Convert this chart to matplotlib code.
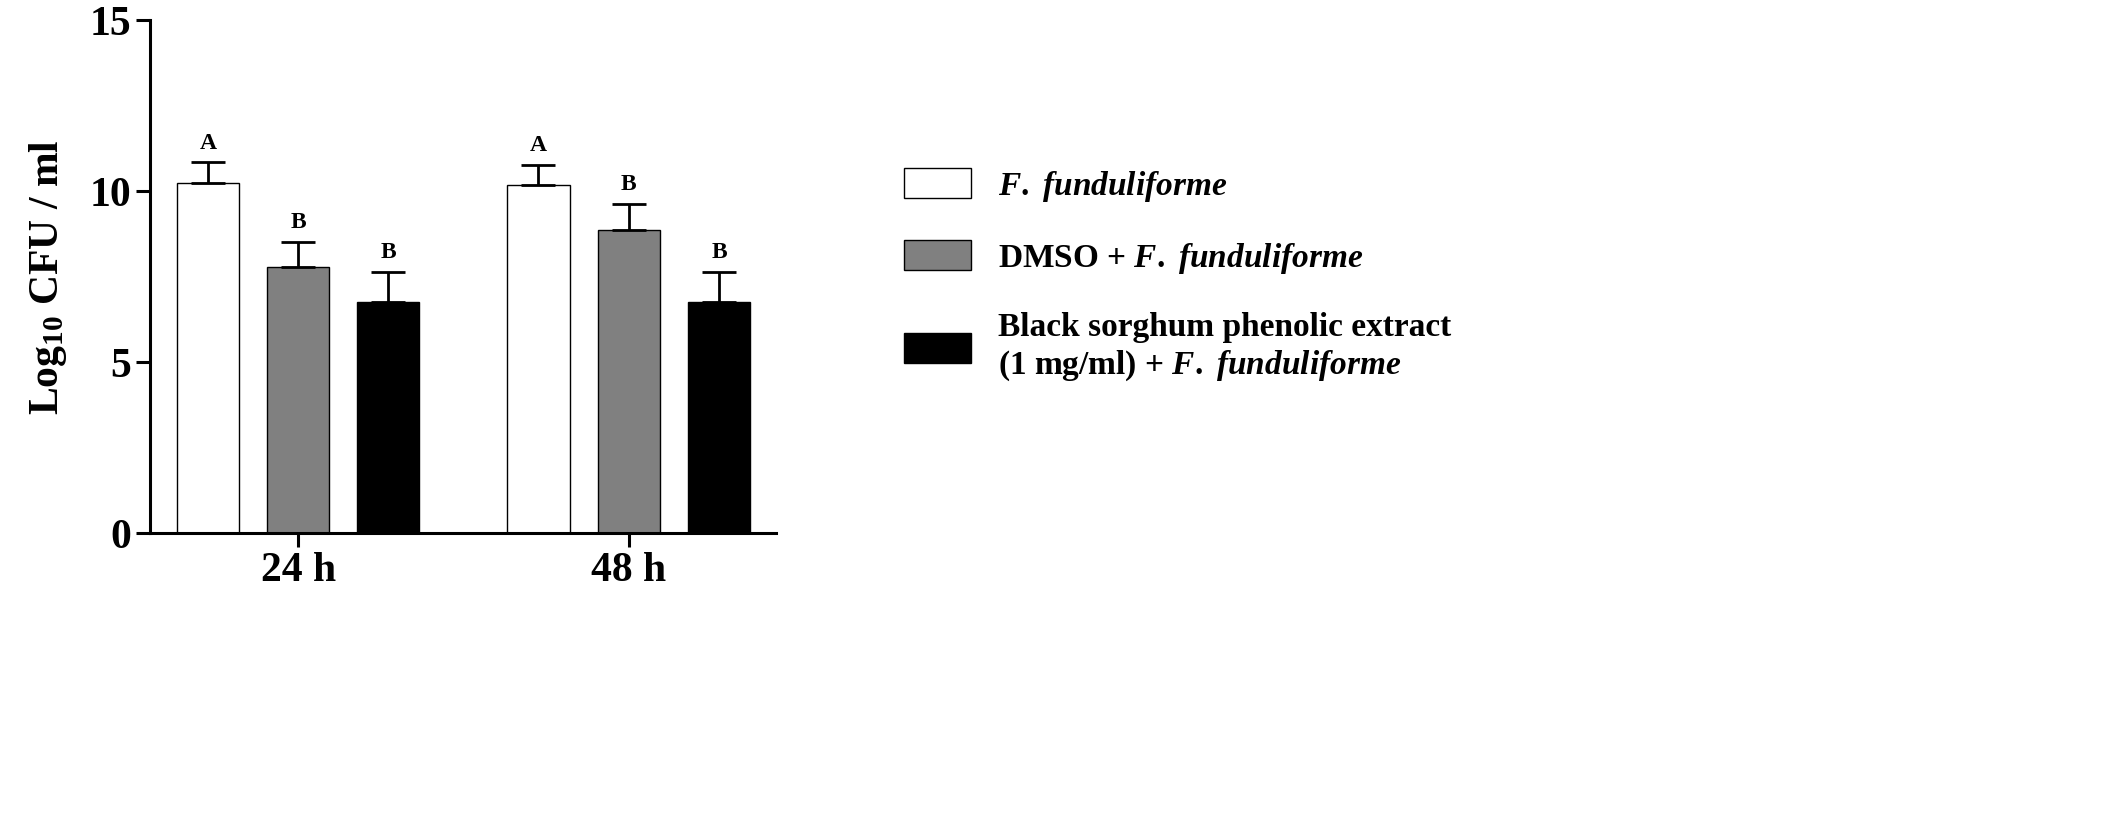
import matplotlib
matplotlib.use("Agg")
import matplotlib.pyplot as plt
import numpy as np
from matplotlib.patches import Patch

plt.rcParams['font.family'] = 'Liberation Serif'
plt.rcParams['font.weight'] = 'bold'
plt.rcParams['mathtext.fontset'] = 'custom'
plt.rcParams['mathtext.rm'] = 'Liberation Serif:bold'
plt.rcParams['mathtext.bf'] = 'Liberation Serif:bold'
plt.rcParams['mathtext.it'] = 'Liberation Serif:italic:bold'

groups = ["24 h", "48 h"]
means = [[10.25, 10.18], [7.8, 8.88], [6.75, 6.75]]
errs = [[0.6, 0.6], [0.72, 0.75], [0.9, 0.9]]
letters = [["A", "A"], ["B", "B"], ["B", "B"]]
colors = ["white", "#808080", "black"]

fig = plt.figure(figsize=(21.07, 8.14), dpi=100)
ax = fig.add_axes([0.0712, 0.345, 0.297, 0.63])
x = np.arange(len(groups))
w = 0.188
offs = [-0.273, 0, 0.273]
for i in range(3):
    ax.bar(x + offs[i], means[i], w, color=colors[i], edgecolor="black", linewidth=1.0,
           yerr=[np.zeros(2), errs[i]],
           error_kw=dict(ecolor="black", elinewidth=2, capsize=12, capthick=2),
           zorder=2)
    for j in range(2):
        ax.text(x[j] + offs[i], means[i][j] + errs[i][j] + 0.25, letters[i][j],
                ha="center", va="bottom", fontsize=17, fontweight="bold")
ax.set_xlim(-0.448, 1.445)
ax.set_ylim(0, 15)
ax.set_yticks([0, 5, 10, 15])
ax.set_xticks(x)
ax.set_xticklabels(groups)
for s in ["top", "right"]:
    ax.spines[s].set_visible(False)
for s in ["left", "bottom"]:
    ax.spines[s].set_linewidth(2.2)
ax.tick_params(axis="both", labelsize=30, width=2.2, length=10)
ax.set_ylabel(r"Log$_{10}$ CFU / ml", fontsize=30, fontweight="bold", labelpad=15)

handles = [Patch(facecolor=c, edgecolor="black") for c in colors]
labels = [r"$\it{F.\ funduliforme}$",
          r"DMSO + $\it{F.\ funduliforme}$",
          "Black sorghum phenolic extract\n(1 mg/ml) + " + r"$\it{F.\ funduliforme}$"]
leg = fig.legend(handles, labels, loc="upper left", bbox_to_anchor=(0.415, 0.83),
                 frameon=False, fontsize=24, handlelength=2.0, handleheight=1.0,
                 labelspacing=1.1, handletextpad=0.8)
for t in leg.get_texts():
    t.set_fontweight("bold")
fig.savefig("out.png", dpi=100)
